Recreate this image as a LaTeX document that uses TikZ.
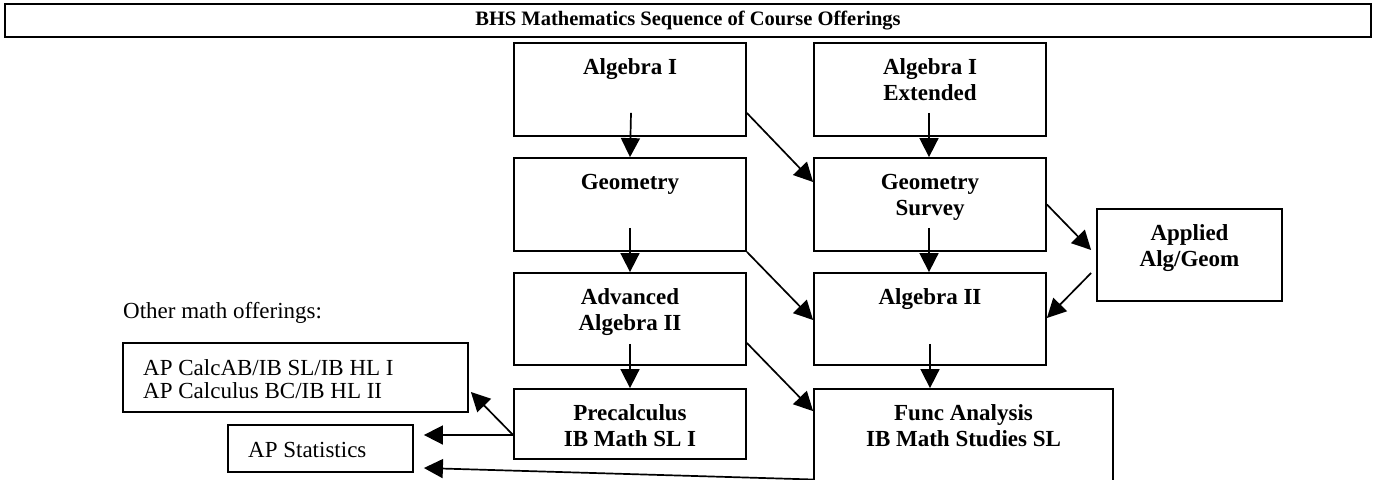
\documentclass[tikz,border=0pt]{standalone}
\usepackage{fontspec}
\setmainfont{Liberation Serif}
\usetikzlibrary{arrows.meta,calc}
\begin{document}
\begin{tikzpicture}[x=1pt,y=-1pt,
  box/.style={draw,line width=1.8pt,inner sep=0pt,minimum width=232pt},
  btxt/.style={inner sep=0pt,align=center,font=\fontsize{23}{26}\selectfont\bfseries,anchor=north},
  rtxt/.style={inner sep=0pt,font=\fontsize{23}{23}\selectfont},
  arr/.style={line width=1.7pt,-{Triangle[length=19pt,width=19pt]}}]
\useasboundingbox (0,0) rectangle (1375,479);
\clip (0,0) rectangle (1375,479);
% title
\node[draw,line width=2.6pt,minimum width=1366pt,minimum height=33pt,inner sep=0pt,
  font=\fontsize{20.5}{24}\selectfont\bfseries] (title) at (688,20.5) {BHS Mathematics Sequence of Course Offerings};
% boxes
\node[box,minimum height=93pt] (a1)  at (630,89.5) {};
\node[box,minimum height=93pt] (a1e) at (930,89.5) {};
\node[box,minimum height=93pt] (geo) at (630,204.5) {};
\node[box,minimum height=93pt] (gs)  at (930,204.5) {};
\node[box,minimum height=92pt,minimum width=185pt] (app) at (1189.5,255) {};
\node[box,minimum height=92pt] (aa2) at (630,319) {};
\node[box,minimum height=92pt] (a2)  at (930,319) {};
\node[box,minimum height=70pt] (pre) at (630,424) {};
\node[box,minimum height=111pt,minimum width=299pt] (fa) at (963.5,444.5) {};
\node[box,minimum height=69pt,minimum width=345pt] (calc) at (295.5,377.5) {};
\node[box,minimum height=47pt,minimum width=185pt] (stat) at (320.5,448.5) {};
% texts
\node[btxt] (t-a1)  at ($(a1.north)+(0,16.5)$) {Algebra I};
\node[btxt] (t-a1e) at ($(a1e.north)+(0,16.5)$) {Algebra I\\Extended};
\node[btxt] (t-geo) at ($(geo.north)+(0,16.5)$) {Geometry};
\node[btxt] (t-gs)  at ($(gs.north)+(0,16.5)$) {Geometry\\Survey};
\node[btxt] (t-app) at ($(app.north)+(0,16.5)$) {Applied\\Alg/Geom};
\node[btxt] (t-aa2) at ($(aa2.north)+(0,16.5)$) {Advanced\\Algebra II};
\node[btxt] (t-a2)  at ($(a2.north)+(0,16.5)$) {Algebra II};
\node[btxt] (t-pre) at ($(pre.north)+(0,16.5)$) {Precalculus\\IB Math SL I};
\node[btxt] (t-fa)  at ($(fa.north)+(0,16.5)$) {Func Analysis\\IB Math Studies SL};
\node[rtxt,anchor=west] (other) at (123,313) {Other math offerings:};
\node[rtxt,anchor=west,align=left] (t-calc) at (143,379) {AP CalcAB/IB SL/IB HL I\\AP Calculus BC/IB HL II};
\node[rtxt,anchor=west] (t-stat) at (248,450) {AP Statistics};
% connectors
\draw[arr] ($(a1.south)+(1,-24)$) -- (a1.south |- geo.north);
\draw[arr] ($(a1e.south)+(-1,-24)$) -- ($(a1e.south |- gs.north)+(-1,0)$);
\draw[arr] ($(a1.east)+(0,23.5)$) -- ($(gs.west)+(0,-22.5)$);
\draw[arr] ($(geo.south)+(0,-24)$) -- (aa2.north);
\draw[arr] ($(gs.south)+(-1,-24)$) -- ($(a2.north)+(-1,0)$);
\draw[arr] (geo.south east) -- ($(a2.west)+(0,1)$);
\draw[arr] (gs.east) -- ($(app.west)+(-5,-5)$);
\draw[arr] ($(app.west)+(-5,18)$) -- ($(a2.east)+(0,-1)$);
\draw[arr] ($(aa2.south)+(0,-22)$) -- (pre.north);
\draw[arr] ($(a2.south)+(0,-22)$) -- (fa.north -| a2.south);
\draw[arr] ($(aa2.east)+(0,24)$) -- ($(fa.north west)+(0,23)$);
\coordinate (pl) at ($(pre.west)+(0,11)$);
\draw[arr] (pl) -- ($(calc.east)+(2,14.5)$);
\draw[arr] (pl) -- ($(stat.east)+(10,-13.5)$);
\coordinate (faout) at ($(fa.west)+(0,35)$);
\draw[arr] (faout) -- ($(stat.east)+(10,19.5)$);
\end{tikzpicture}
\end{document}
